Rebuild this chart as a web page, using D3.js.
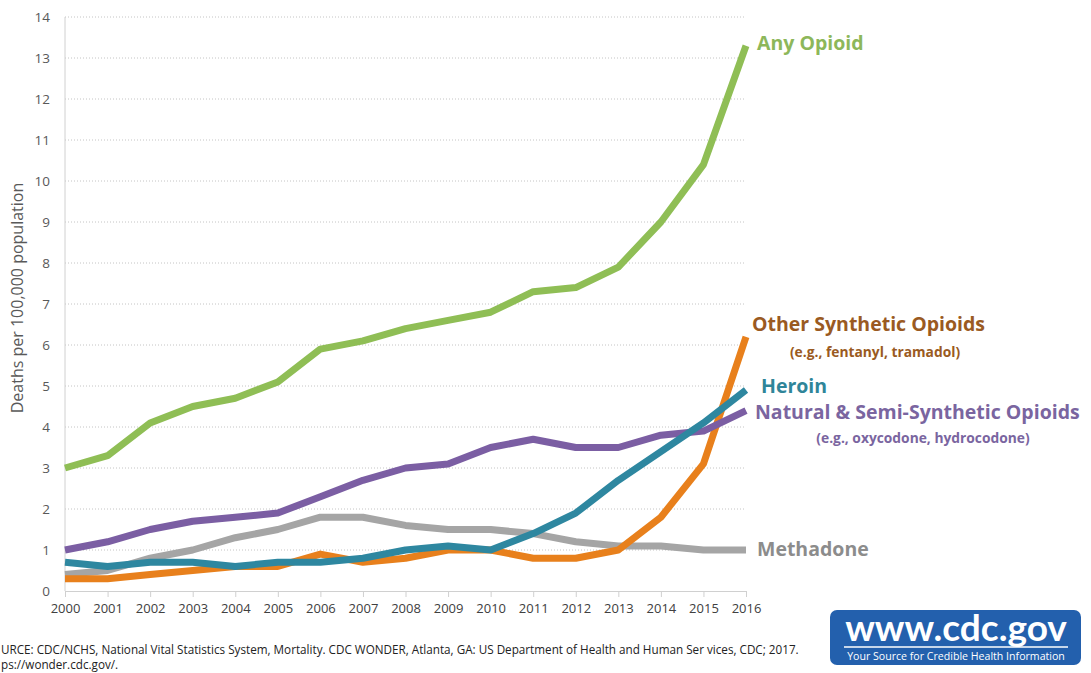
<!DOCTYPE html>
<html><head><meta charset="utf-8">
<script src="https://cdn.jsdelivr.net/npm/d3@7"></script>
<style>
html,body{margin:0;padding:0;background:#fff;overflow:hidden}
svg{display:block}
</style></head>
<body>
<svg id="chart" width="1091" height="673"></svg>
<script>
const years = [2000,2001,2002,2003,2004,2005,2006,2007,2008,2009,2010,2011,2012,2013,2014,2015,2016];
const anyOpioid   = [3.0,3.3,4.1,4.5,4.7,5.1,5.9,6.1,6.4,6.6,6.8,7.3,7.4,7.9,9.0,10.4,13.3];
const naturalSemi = [1.0,1.2,1.5,1.7,1.8,1.9,2.3,2.7,3.0,3.1,3.5,3.7,3.5,3.5,3.8,3.9,4.4];
const methadone   = [0.4,0.5,0.8,1.0,1.3,1.5,1.8,1.8,1.6,1.5,1.5,1.4,1.2,1.1,1.1,1.0,1.0];
const heroin      = [0.7,0.6,0.7,0.7,0.6,0.7,0.7,0.8,1.0,1.1,1.0,1.4,1.9,2.7,3.4,4.1,4.9];
const otherSynth  = [0.3,0.3,0.4,0.5,0.6,0.6,0.9,0.7,0.8,1.0,1.0,0.8,0.8,1.0,1.8,3.1,6.2];
const yTicks = [0,1,2,3,4,5,6,7,8,9,10,11,12,13,14];

const series = [
  {name:"Methadone", values:methadone, color:"#a5a5a5"},
  {name:"Other Synthetic Opioids", values:otherSynth, color:"#e8801c"},
  {name:"Natural & Semi-Synthetic Opioids", values:naturalSemi, color:"#7b5ea3"},
  {name:"Heroin", values:heroin, color:"#2e87a0"},
  {name:"Any Opioid", values:anyOpioid, color:"#8fbe55"}
];

const svg = d3.select("#chart");
const L = 65, R = 746, T = 17, B = 591;
const x = d3.scalePoint().domain(years).range([L, R]);
const y = d3.scaleLinear().domain([0,14]).range([B, T]);

// gridlines
svg.append("g").selectAll("line").data(yTicks.filter(d=>d>0)).join("line")
  .attr("x1", L).attr("x2", R)
  .attr("y1", d=>y(d)).attr("y2", d=>y(d))
  .attr("stroke","#c4c4c4").attr("stroke-width",1).attr("stroke-dasharray","1,2");

// left axis line
svg.append("line").attr("x1",L).attr("x2",L).attr("y1",T).attr("y2",B)
  .attr("stroke","#d0d0d0").attr("stroke-width",1);

// y tick labels
svg.append("g").selectAll("text").data(yTicks).join("text")
  .attr("x", 50).attr("y", d=>y(d)+5)
  .attr("text-anchor","end")
  .attr("font-family","'Open Sans', sans-serif").attr("font-size",13.5)
  .attr("fill","#595959").text(d=>d);

// x axis
const xAxis = d3.axisBottom(x).tickSize(6).tickPadding(7);
const gx = svg.append("g").attr("transform",`translate(0,${B})`).call(xAxis);
gx.select(".domain").attr("stroke","#d0d0d0").attr("d", `M${L},0.5H${R}`);
gx.selectAll(".tick line").attr("stroke","#d0d0d0");
gx.selectAll(".tick text").attr("font-family","'Open Sans', sans-serif").attr("font-size",13).attr("fill","#404040");

// y axis title
svg.append("text")
  .attr("transform","translate(23,298) rotate(-90)")
  .attr("text-anchor","middle")
  .attr("font-family","'Open Sans', sans-serif").attr("font-size",16)
  .attr("fill","#595959").text("Deaths per 100,000 population");

// lines
const line = d3.line().x((d,i)=>x(years[i])).y(d=>y(d));
svg.append("g").selectAll("path").data(series).join("path")
  .attr("d", d=>line(d.values))
  .attr("fill","none").attr("stroke", d=>d.color)
  .attr("stroke-width",7).attr("stroke-linejoin","round").attr("stroke-linecap","butt");

// labels
const font = "'Open Sans', sans-serif";
const labels = [
  {t:"Any Opioid", x:757, y:50, size:19.5, c:"#8db75a", a:"start"},
  {t:"Other Synthetic Opioids", x:752, y:331, size:19.5, c:"#9a5a22", a:"start"},
  {t:"(e.g., fentanyl, tramadol)", x:875, y:357, size:13.8, c:"#9a5a22", a:"middle"},
  {t:"Heroin", x:761, y:393, size:19.5, c:"#2f8599", a:"start"},
  {t:"Natural & Semi-Synthetic Opioids", x:755, y:419, size:19.5, c:"#7a65a0", a:"start"},
  {t:"(e.g., oxycodone, hydrocodone)", x:923, y:443, size:13.8, c:"#7a65a0", a:"middle"},
  {t:"Methadone", x:757, y:556, size:19.5, c:"#8c8c8c", a:"start"}
];
svg.append("g").selectAll("text").data(labels).join("text")
  .attr("x", d=>d.x).attr("y", d=>d.y).attr("text-anchor", d=>d.a)
  .attr("font-family", font).attr("font-weight","bold")
  .attr("font-size", d=>d.size).attr("fill", d=>d.c).text(d=>d.t);

// source (left edge of the reference cuts the first letters)
const src = ["URCE: CDC/NCHS, National Vital Statistics System, Mortality. CDC WONDER, Atlanta, GA: US Department of Health and Human Ser vices, CDC; 2017.",
             "ps://wonder.cdc.gov/."];
svg.append("g").selectAll("text").data(src).join("text")
  .attr("x", 1).attr("y",(d,i)=>654+i*15)
  .attr("font-family","'Open Sans', sans-serif").attr("font-size",11.7)
  .attr("fill","#222").text(d=>d);

// cdc logo
const logo = svg.append("g").attr("transform","translate(830,610)");
logo.append("rect").attr("width",251).attr("height",55).attr("rx",7).attr("fill","#2360ad");
logo.append("text").attr("x",126).attr("y",31).attr("text-anchor","middle")
  .attr("font-family","Lato, 'Open Sans', sans-serif").attr("font-weight","bold")
  .attr("font-size",37).attr("fill","#fff").text("www.cdc.gov");
logo.append("line").attr("x1",14).attr("x2",238).attr("y1",37).attr("y2",37)
  .attr("stroke","#fff").attr("stroke-width",1.5);
logo.append("text").attr("x",126).attr("y",50).attr("text-anchor","middle")
  .attr("font-family","'Open Sans', sans-serif")
  .attr("font-size",10.6).attr("fill","#fff").text("Your Source for Credible Health Information");
</script>
</body></html>
